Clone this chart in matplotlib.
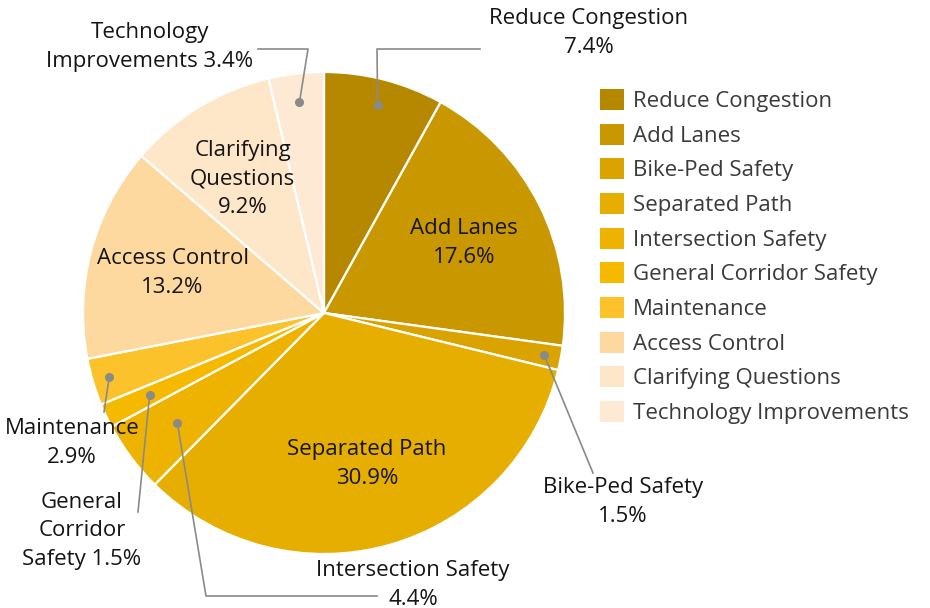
import numpy as np
import matplotlib
matplotlib.use("Agg")
import matplotlib.pyplot as plt

plt.rcParams['font.family'] = ['Open Sans', 'DejaVu Sans']

categories = ["Reduce Congestion", "Add Lanes", "Bike-Ped Safety", "Separated Path",
              "Intersection Safety", "General Corridor Safety", "Maintenance",
              "Access Control", "Clarifying Questions", "Technology Improvements"]
shares = [7.4, 17.6, 1.5, 30.9, 4.4, 1.5, 2.9, 13.2, 9.2, 3.4]
colors = ["#B58800", "#C99700", "#DAA300", "#E6AE00", "#EEB300", "#F5B900",
          "#FCC22C", "#FDD9A0", "#FEE6C9", "#FEEAD4"]

# slice label text (percent appended from the data)
label_text = {
    "Reduce Congestion": "Reduce Congestion\n{p}",
    "Add Lanes": "Add Lanes\n{p}",
    "Bike-Ped Safety": "Bike-Ped Safety\n{p}",
    "Separated Path": "Separated Path\n{p}",
    "Intersection Safety": "Intersection Safety\n{p}",
    "General Corridor Safety": "General\nCorridor\nSafety {p}",
    "Maintenance": "Maintenance\n{p}",
    "Access Control": "Access Control\n{p}",
    "Clarifying Questions": "Clarifying\nQuestions\n{p}",
    "Technology Improvements": "Technology\nImprovements {p}",
}
inside = {"Add Lanes", "Separated Path", "Access Control", "Clarifying Questions"}

W, H = 930, 608
fig = plt.figure(figsize=(W / 100, H / 100), dpi=100)
ax = fig.add_axes([0, 0, 1, 1])
ax.set_aspect('equal')
ax.axis('off')

cx, cy, R = 324, H - 313, 241
wedges, _ = ax.pie(shares, colors=colors, startangle=90, counterclock=False,
                   center=(cx, cy), radius=R,
                   wedgeprops=dict(edgecolor='white', linewidth=1.6))
ax.set_xlim(0, W)
ax.set_ylim(0, H)

FS = 16
txt_kw = dict(fontsize=FS, color='#151515', ha='center', va='center',
              linespacing=1.48)
line_kw = dict(color='#8a8a8a', lw=1.2, zorder=5)

# outside labels: text centre and leader path after the dot (pixels from top)
outside = {
    "Reduce Congestion": dict(text=(589, 33), path=[(377, 49), (480, 49)], r=0.89),
    "Technology Improvements": dict(text=(150, 47), path=[(308, 49), (258, 49)], r=0.88),
    "Bike-Ped Safety": dict(text=(623, 502), path=[(593, 473)], r=0.93),
    "Intersection Safety": dict(text=(413, 585), path=[(206, 596), (377, 596)], r=0.76),
    "General Corridor Safety": dict(text=(82, 531), path=[(138, 512)], r=0.80),
    "Maintenance": dict(text=(72, 443), path=[(104, 412)], r=0.93),
}

for w, cat, val in zip(wedges, categories, shares):
    mid = np.deg2rad((w.theta1 + w.theta2) / 2)
    s = label_text[cat].format(p=f"{val}%")
    if cat in inside:
        r = 0.65 * R
        ax.text(cx + r * np.cos(mid), cy + r * np.sin(mid), s, **txt_kw)
    else:
        o = outside[cat]
        r = o["r"] * R
        dx, dy = cx + r * np.cos(mid), cy + r * np.sin(mid)
        xs = [dx] + [p[0] for p in o["path"]]
        ys = [dy] + [H - p[1] for p in o["path"]]
        ax.plot(xs, ys, **line_kw)
        ax.plot([dx], [dy], 'o', color='#8a8a8a', ms=5.5, zorder=6)
        ax.text(o["text"][0], H - o["text"][1], s, **txt_kw)

leg = ax.legend(wedges, categories, loc='upper left',
                bbox_to_anchor=(600 / W, 1 - 89 / H), frameon=False,
                fontsize=FS, handlelength=1.08, handleheight=1.08,
                handletextpad=0.4, labelspacing=0.52, borderaxespad=0,
                borderpad=0)
for t in leg.get_texts():
    t.set_color('#3a3a3a')
for h in leg.legend_handles:
    h.set_edgecolor('none')

fig.savefig("out.png", dpi=100, facecolor='white')
